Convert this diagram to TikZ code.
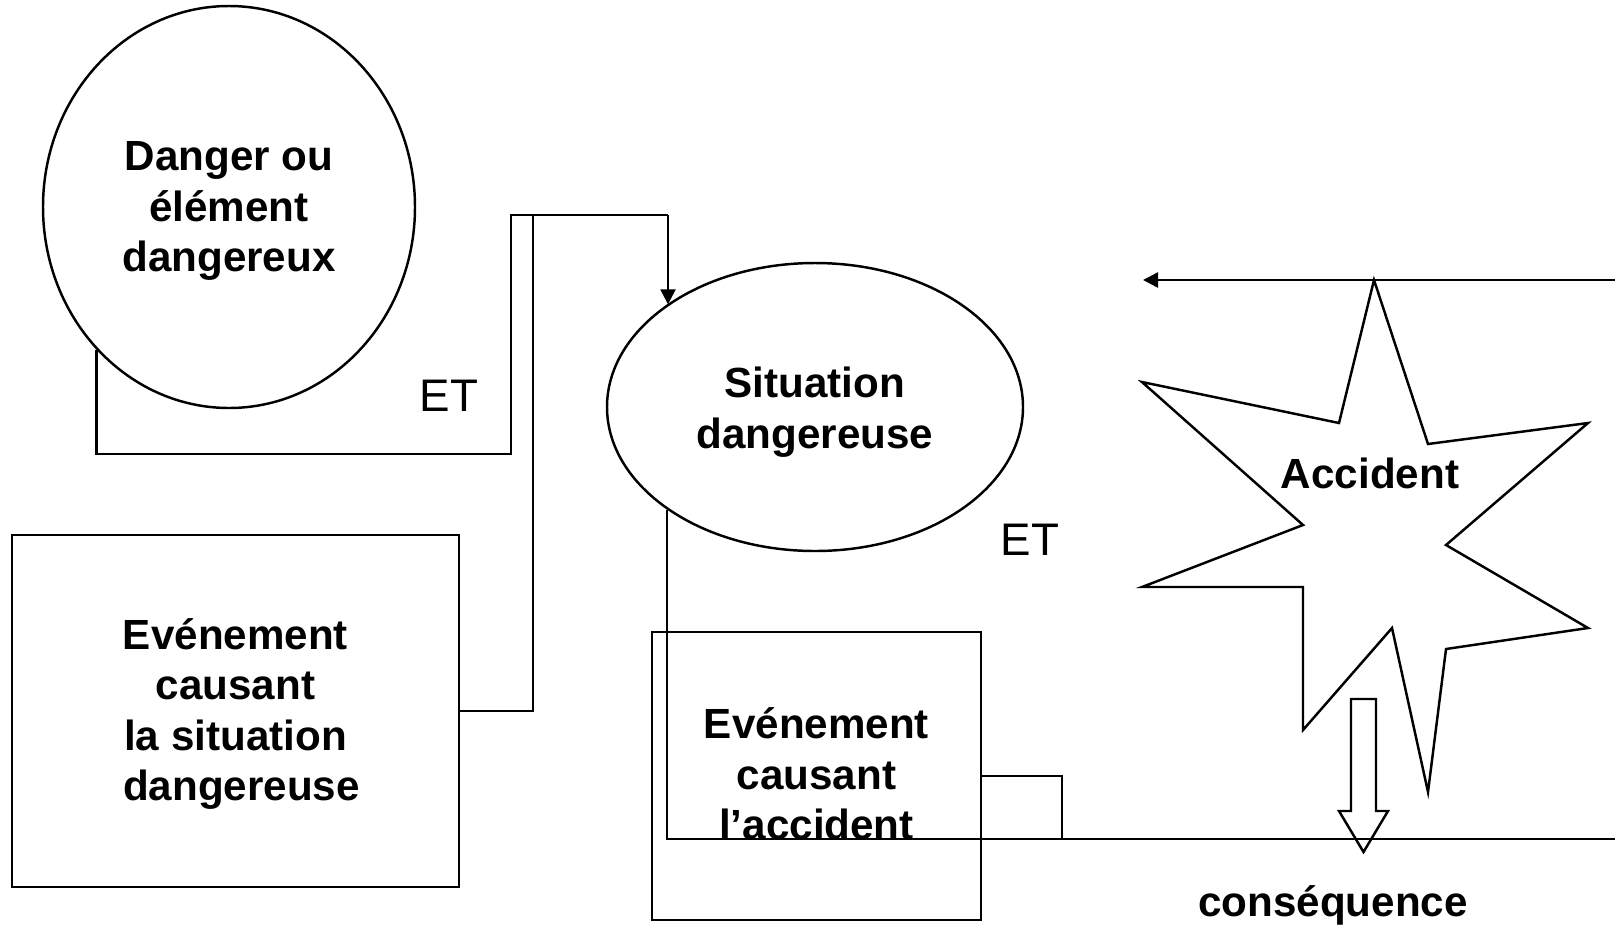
\documentclass[tikz,border=0pt]{standalone}
\usepackage{fontspec}
\setmainfont{Liberation Sans}
\usepackage{tikz}
\usetikzlibrary{shapes.geometric}
\usetikzlibrary{arrows.meta}
\tikzset{
	boxtext/.style={font=\bfseries\fontsize{12}{14.4}\selectfont, align=center, inner sep=0pt},
	bubble/.style={draw, ellipse, boxtext},
	panel/.style={draw, rectangle, boxtext},
	etword/.style={font=\fontsize{13}{15}\selectfont, inner sep=0pt},
	flow/.style={-{Triangle[length=1.5mm, width=1.5mm]}}
}

\begin{document}
\begin{tikzpicture}[x=0.1mm, y=-0.1mm, line width=0.7pt]
	% 1615 x 925 px, one px = 0.1mm, y goes down
	\useasboundingbox (0,0) rectangle (1615,925);
	
	% shapes
	\node[bubble, minimum width=37.2mm, minimum height=40.2mm] (danger) at (229,207) {};
	\node[boxtext] (dangerText) at (229,211) {Danger ou\\élément\\dangereux};
	\node[bubble, minimum width=41.6mm, minimum height=28.8mm] (situation) at (815,407) {};
	\node[boxtext] (situationText) at (815,412) {Situation\\dangereuse};
	\node[panel, minimum width=44.7mm, minimum height=35.2mm] (evsit) at (235.5,711) {};
	\node[boxtext] (evsitText) at (235.5,714) {Evénement\\causant\\la situation\\\hspace*{0.28em}dangereuse};
	\node[panel, minimum width=32.9mm, minimum height=28.8mm] (evacc) at (816.5,776) {};
	\node[boxtext] (evaccText) at (816.5,774) {Evénement\\causant\\l’accident};
	
	% corners of the links
	\coordinate (cornerA) at (511,454);
	\coordinate (cornerB) at (533,215);
	\coordinate (joinTop) at (668,215);
	\coordinate (cornerC) at (1062,839);
	\coordinate (rightLow) at (1615,839);
	\coordinate (rightHigh) at (1615,280);
	\coordinate (arrowEnd) at (1143,280);
	
	% links
	\draw (danger.south west) |- (cornerA) |- (joinTop);
	\draw (evsit.east) -| (cornerB);
	\draw[flow] (joinTop) -- (joinTop |- situation.north west);
	\draw (situation.south west) |- (rightLow);
	\draw (evacc.east) -| (cornerC);
	\draw[flow] (rightHigh) -- (arrowEnd);
	
	\node[etword] (etLeft) at (449,396) {ET};
	\node[etword] (etRight) at (1030,540) {ET};
	
	% accident star
	\draw (1374,280) -- (1428,444) -- (1588,423) -- (1446,545) -- (1588,628) -- (1446,649) -- (1428,792)
		-- (1392,628) -- (1303,730) -- (1303,587) -- (1142,587) -- (1303,525) -- (1142,382) -- (1339,423) -- cycle;
	\node[boxtext] (accident) at (1370,473) {Accident};
	
	% block arrow down
	\draw (1351,699) -- (1376,699) -- (1376,811) -- (1388,811) -- (1363.5,852) -- (1339,811) -- (1351,811) -- cycle;
	\node[boxtext, anchor=base] (consequence) at (1333,916) {conséquence};
	
\end{tikzpicture}
\end{document}
